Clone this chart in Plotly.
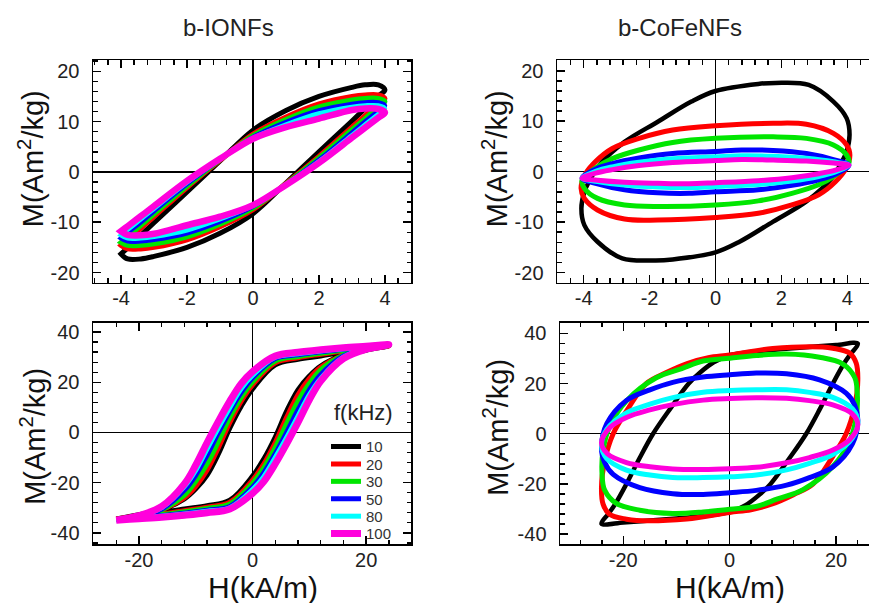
import plotly.graph_objects as go

FONT = "Arial, Liberation Sans, sans-serif"
FREQS = ["10", "20", "30", "50", "80", "100"]
COLORS = ["#000000", "#ff0000", "#00e600", "#0000ff", "#00ffff", "#ff00dc"]

# ---------------- b-IONFs, low field (top-left) ----------------
TL_H_DESC = [4, 3.8, 3.4, 3, 2, 1, 0, -1, -2, -3, -3.4, -3.8, -4]
TL_H_ASC = [-4, -3.8, -3.4, -3, -2, -1, 0, 1, 2, 3, 3.4, 3.8, 4]
TL_M_DESC_10 = [16.3, 17.3, 17.3, 16.8, 15, 12.2, 8.3, 2.2, -4.0, -10.1, -12.6, -15.1, -16.3]
TL_M_ASC_10 = [-16.3, -17.3, -17.3, -16.8, -15, -12.2, -8.3, -2.2, 4.0, 10.1, 12.6, 15.1, 16.3]
TL_M_DESC_20 = [14.6, 15.3, 15.3, 15, 13.5, 10.9, 7.5, 2.3, -3.1, -8.9, -11.2, -13.4, -14.6]
TL_M_ASC_20 = [-14.6, -15.3, -15.3, -15, -13.5, -10.9, -7.5, -2.3, 3.1, 8.9, 11.2, 13.4, 14.6]
TL_M_DESC_30 = [14, 14.6, 14.6, 14.3, 12.9, 10.4, 7.2, 2.4, -2.8, -8.4, -10.6, -12.9, -14]
TL_M_ASC_30 = [-14, -14.6, -14.6, -14.3, -12.9, -10.4, -7.2, -2.4, 2.8, 8.4, 10.6, 12.9, 14]
TL_M_DESC_50 = [13.2, 13.8, 13.8, 13.5, 12.2, 9.9, 6.9, 2.5, -2.4, -7.8, -10, -12.1, -13.2]
TL_M_ASC_50 = [-13.2, -13.8, -13.8, -13.5, -12.2, -9.9, -6.9, -2.5, 2.4, 7.8, 10, 12.1, 13.2]
TL_M_DESC_80 = [12.6, 13.2, 13.2, 12.9, 11.6, 9.4, 6.7, 2.5, -2.1, -7.3, -9.4, -11.5, -12.6]
TL_M_ASC_80 = [-12.6, -13.2, -13.2, -12.9, -11.6, -9.4, -6.7, -2.5, 2.1, 7.3, 9.4, 11.5, 12.6]
TL_M_DESC_100 = [11.8, 12.5, 12.6, 12.3, 10.6, 8.9, 6.6, 2.6, -1.8, -6.8, -8.8, -10.8, -11.8]
TL_M_ASC_100 = [-11.8, -12.5, -12.6, -12.3, -10.6, -8.9, -6.6, -2.6, 1.8, 6.8, 8.8, 10.8, 11.8]

# ---------------- b-CoFeNFs, low field (top-right) ----------------
TR_H_10 = [0, -0.73, -1.75, -2.76, -3.53, -3.78, -3.98, -4.07, -3.98, -3.58, -2.83, -1.81, -1.3,
           0, 0.73, 1.75, 2.76, 3.53, 3.78, 3.98, 4.07, 3.98, 3.58, 2.83, 1.81, 1.3, 0]
TR_M_10 = [16, 13.9, 9.9, 5.9, 1.3, -1.3, -4.0, -7.3, -10.6, -13.9, -17.2, -17.6, -17.4,
           -16, -13.9, -9.9, -5.9, -1.3, 1.3, 4.0, 7.3, 10.6, 13.9, 17.2, 17.6, 17.4, 16]
TR_H_20 = [0, -1.3, -2.32, -3.13, -3.64, -3.95, -4.08, -3.98, -3.58, -2.76, -1.75,
           0, 1.3, 2.32, 3.13, 3.64, 3.95, 4.08, 3.98, 3.58, 2.76, 1.75, 0]
TR_M_20 = [9.1, 8.25, 6.6, 4.6, 2.0, -0.5, -3.3, -5.3, -7.6, -9.4, -9.6,
           -9.1, -8.25, -6.6, -4.6, -2.0, 0.5, 3.3, 5.3, 7.6, 9.4, 9.6, 9.1]
TR_H_30 = [0, -1.3, -2.32, -3.13, -3.64, -4.05, -3.98, -3.58, -2.76, -1.75,
           0, 1.3, 2.32, 3.13, 3.64, 4.05, 3.98, 3.58, 2.76, 1.75, 0]
TR_M_30 = [6.6, 5.8, 4.3, 2.6, 0.7, -1.7, -3.3, -5.3, -6.6, -6.9,
           -6.6, -5.8, -4.3, -2.6, -0.7, 1.7, 3.3, 5.3, 6.6, 6.9, 6.6]
TR_H_50 = [0, -1.3, -2.32, -3.13, -3.64, -4.05, -3.58, -2.76, -1.75, -0.8,
           0, 1.3, 2.32, 3.13, 3.64, 4.05, 3.58, 2.76, 1.75, 0.8, 0]
TR_M_50 = [4.0, 3.6, 2.7, 1.6, 0.5, -1.3, -2.4, -3.6, -4.2, -4.3,
           -4.0, -3.6, -2.7, -1.6, -0.5, 1.3, 2.4, 3.6, 4.2, 4.3, 4.0]
TR_H_80 = [0, -1.3, -2.32, -3.13, -3.64, -4.05, -3.58, -2.76, -1.75, -0.8,
           0, 1.3, 2.32, 3.13, 3.64, 4.05, 3.58, 2.76, 1.75, 0.8, 0]
TR_M_80 = [3.0, 2.6, 1.9, 1.0, 0.1, -1.3, -2.0, -2.7, -3.1, -3.2,
           -3.0, -2.6, -1.9, -1.0, -0.1, 1.3, 2.0, 2.7, 3.1, 3.2, 3.0]
TR_H_100 = [0, -1.3, -2.32, -3.13, -3.64, -4.05, -3.58, -2.76, -1.75, -0.8,
            0, 1.3, 2.32, 3.13, 3.64, 4.05, 3.58, 2.76, 1.75, 0.8, 0]
TR_M_100 = [2.2, 1.8, 1.2, 0.4, -0.3, -1.3, -1.7, -2.1, -2.3, -2.4,
            -2.2, -1.8, -1.2, -0.4, 0.3, 1.3, 1.7, 2.1, 2.3, 2.4, 2.2]

# ---------------- b-IONFs, high field (bottom-left) ----------------
BL_H_DESC = [24, 20, 16, 12, 8, 4, 0, -2, -4, -6, -8, -10, -12, -16, -20, -24]
BL_H_ASC = [-24, -20, -16, -12, -8, -4, 0, 2, 4, 6, 8, 10, 12, 16, 20, 24]
BL_M_DESC_10 = [34.5, 33.3, 32, 30.5, 29.2, 27, 17.4, 10.5, 1.8, -8.5, -17, -22.5, -26.5, -30.8, -32.8, -34.5]
BL_M_ASC_10 = [-34.5, -33.3, -32, -30.5, -29.2, -27, -17.4, -10.5, -1.8, 8.5, 17, 22.5, 26.5, 30.8, 32.8, 34.5]
BL_M_DESC_20 = [34.5, 33.6, 32.5, 31.2, 29.8, 27.8, 19, 12.5, 4, -6, -15, -21.5, -26, -30.8, -33, -34.5]
BL_M_ASC_20 = [-34.5, -33.6, -32.5, -31.2, -29.8, -27.8, -19, -12.5, -4, 6, 15, 21.5, 26, 30.8, 33, 34.5]
BL_M_DESC_30 = [34.7, 33.8, 32.8, 31.6, 30.3, 28.5, 20.2, 14, 6, -3.5, -12.5, -19.5, -25, -30.8, -33.2, -34.7]
BL_M_ASC_30 = [-34.7, -33.8, -32.8, -31.6, -30.3, -28.5, -20.2, -14, -6, 3.5, 12.5, 19.5, 25, 30.8, 33.2, 34.7]
BL_M_DESC_50 = [34.8, 34, 33.2, 32.2, 31, 29.5, 21.8, 16, 8.5, 0, -9, -17, -23, -30.5, -33.3, -34.8]
BL_M_ASC_50 = [-34.8, -34, -33.2, -32.2, -31, -29.5, -21.8, -16, -8.5, 0, 9, 17, 23, 30.5, 33.3, 34.8]
BL_M_DESC_80 = [34.8, 34.1, 33.4, 32.5, 31.4, 30, 22.8, 17.5, 10, 2, -6.5, -15, -21.5, -30, -33.4, -34.8]
BL_M_ASC_80 = [-34.8, -34.1, -33.4, -32.5, -31.4, -30, -22.8, -17.5, -10, -2, 6.5, 15, 21.5, 30, 33.4, 34.8]
BL_M_DESC_100 = [35, 34.4, 33.8, 33, 32, 30.5, 24.3, 19.5, 12.5, 4.5, -4, -13, -20.5, -29.5, -33.2, -35]
BL_M_ASC_100 = [-35, -34.4, -33.8, -33, -32, -30.5, -24.3, -19.5, -12.5, -4.5, 4, 13, 20.5, 29.5, 33.2, 35]

# ---------------- b-CoFeNFs, high field (bottom-right) ----------------
BR_H_10 = [0, -3, -5.5, -7.7, -11, -14.4, -17, -19.4, -21.5, -22.7, -24.1, -20, -15, -10, -5,
           0, 3, 5.5, 7.7, 11, 14.4, 17, 19.4, 21.5, 22.7, 24.1, 20, 15, 10, 5, 0]
BR_M_10 = [31.3, 28.5, 24.5, 20, 10.5, 0, -10, -20, -28, -31.7, -35.9, -35.4, -34.6, -33.8, -32.8,
           -31.3, -28.5, -24.5, -20, -10.5, 0, 10, 20, 28, 31.7, 35.9, 35.4, 34.6, 33.8, 32.8, 31.3]
BR_H_20 = [0, -4, -8, -12, -15.7, -19.4, -21.9, -23.5, -24.1, -23.8, -22.6, -19.4, -17.5, -8.1,
           0, 4, 8, 12, 15.7, 19.4, 21.9, 23.5, 24.1, 23.8, 22.6, 19.4, 17.5, 8.1, 0]
BR_M_20 = [31.4, 30.3, 28, 24.3, 20, 9, 0, -10.8, -21.5, -28.1, -32.1, -34.1, -34.6, -34.0,
           -31.4, -30.3, -28, -24.3, -20, -9, 0, 10.8, 21.5, 28.1, 32.1, 34.1, 34.6, 34.0, 31.4]
BR_H_30 = [0, -5, -9, -13.8, -19.4, -22.6, -23.8, -24, -23.5, -21.3, -16.9, -10.7, -5,
           0, 5, 9, 13.8, 19.4, 22.6, 23.8, 24, 23.5, 21.3, 16.9, 10.7, 5, 0]
BR_M_30 = [30.1, 29, 26, 22.3, 13.1, 2.7, -6.6, -15.9, -22.5, -27.8, -30.5, -31.8, -31.2,
           -30.1, -29, -26, -22.3, -13.1, -2.7, 6.6, 15.9, 22.5, 27.8, 30.5, 31.8, 31.2, 30.1]
BR_H_50 = [0, -5, -10.7, -15, -19.4, -23.1, -24.1, -23.5, -21.9, -16.9, -10.7, -5,
           0, 5, 10.7, 15, 19.4, 23.1, 24.1, 23.5, 21.9, 16.9, 10.7, 5, 0]
BR_M_50 = [23.5, 22.6, 20.5, 17.5, 13.3, 4, -5.3, -11.5, -16.2, -21.5, -23.9, -24.2,
           -23.5, -22.6, -20.5, -17.5, -13.3, -4, 5.3, 11.5, 16.2, 21.5, 23.9, 24.2, 23.5]
BR_H_80 = [0, -5, -10.7, -15, -19.4, -23.1, -24.1, -23.1, -19.4, -15, -10.7, -5,
           0, 5, 10.7, 15, 19.4, 23.1, 24.1, 23.1, 19.4, 15, 10.7, 5, 0]
BR_M_80 = [17.2, 16.5, 14.4, 11.8, 8.3, 1.7, -4.8, -9.9, -14.5, -16.5, -17.5, -17.5,
           -17.2, -16.5, -14.4, -11.8, -8.3, -1.7, 4.8, 9.9, 14.5, 16.5, 17.5, 17.5, 17.2]
BR_H_100 = [0, -5, -10.7, -15, -19.4, -22.5, -24.1, -23, -19.4, -15, -10.7, -5,
            0, 5, 10.7, 15, 19.4, 22.5, 24.1, 23, 19.4, 15, 10.7, 5, 0]
BR_M_100 = [14, 13.4, 11.6, 9.5, 6.5, 2.5, -3.6, -8, -11.5, -13.2, -14.1, -14.3,
            -14, -13.4, -11.6, -9.5, -6.5, -2.5, 3.6, 8, 11.5, 13.2, 14.1, 14.3, 14]

# ---------------- ticks ----------------
LOW_X_TICKS = [-4, -2, 0, 2, 4]
LOW_X_TEXT = ["-4", "-2", "0", "2", "4"]
LOW_Y_TICKS = [-20, -10, 0, 10, 20]
LOW_Y_TEXT = ["-20", "-10", "0", "10", "20"]
HIGH_X_TICKS = [-20, 0, 20]
HIGH_X_TEXT = ["-20", "0", "20"]
HIGH_Y_TICKS = [-40, -20, 0, 20, 40]
HIGH_Y_TEXT = ["-40", "-20", "0", "20", "40"]

TITLES = ["b-IONFs", "b-CoFeNFs"]
Y_TITLE = "M(Am<sup>2</sup>/kg)"
X_TITLE = "H(kA/m)"
LEGEND_TITLE = "f(kHz)"

W, H = 869, 603
fig = go.Figure()

TL_DESC = [TL_M_DESC_10, TL_M_DESC_20, TL_M_DESC_30, TL_M_DESC_50, TL_M_DESC_80, TL_M_DESC_100]
TL_ASC = [TL_M_ASC_10, TL_M_ASC_20, TL_M_ASC_30, TL_M_ASC_50, TL_M_ASC_80, TL_M_ASC_100]
BL_DESC = [BL_M_DESC_10, BL_M_DESC_20, BL_M_DESC_30, BL_M_DESC_50, BL_M_DESC_80, BL_M_DESC_100]
BL_ASC = [BL_M_ASC_10, BL_M_ASC_20, BL_M_ASC_30, BL_M_ASC_50, BL_M_ASC_80, BL_M_ASC_100]
TR_H = [TR_H_10, TR_H_20, TR_H_30, TR_H_50, TR_H_80, TR_H_100]
TR_M = [TR_M_10, TR_M_20, TR_M_30, TR_M_50, TR_M_80, TR_M_100]
BR_H = [BR_H_10, BR_H_20, BR_H_30, BR_H_50, BR_H_80, BR_H_100]
BR_M = [BR_M_10, BR_M_20, BR_M_30, BR_M_50, BR_M_80, BR_M_100]

TL_W = [5, 5, 5, 4.5, 4.5, 6.5]
TR_W = [4.5, 5, 5, 5, 4.5, 5]
BL_W = [5, 5, 5, 5, 5, 7]
BR_W = [4.5, 5, 5, 5, 5, 5]

LEGEND_IDS = ["legend", "legend2", "legend3", "legend4", "legend5", "legend6"]
LEGEND_ROW_Y = [447, 464.5, 482, 499.5, 517, 534.5]


def add_loop(x, y, xa, ya, color, width, name, legend_id):
    fig.add_trace(go.Scatter(
        x=x, y=y, mode="lines", name=name, legendgroup=name,
        showlegend=legend_id is not None, legend=legend_id or "legend",
        line=dict(color=color, width=width, shape="spline", smoothing=1.0),
        xaxis=xa, yaxis=ya, hoverinfo="skip"))


for i, f in enumerate(FREQS):
    add_loop(TL_H_DESC + TL_H_ASC, TL_DESC[i] + TL_ASC[i], "x", "y", COLORS[i], TL_W[i], f, None)
    add_loop(TR_H[i], TR_M[i], "x2", "y2", COLORS[i], TR_W[i], f, None)
    add_loop(BL_H_DESC + BL_H_ASC, BL_DESC[i] + BL_ASC[i], "x3", "y3", COLORS[i], BL_W[i], f,
             LEGEND_IDS[i])
    add_loop(BR_H[i], BR_M[i], "x4", "y4", COLORS[i], BR_W[i], f, None)


def axis(domain, rng, vals, text, minor, anchor, mirror, standoff):
    return dict(
        domain=domain, range=rng, anchor=anchor, autorange=False,
        tickmode="array", tickvals=vals, ticktext=text,
        ticks="inside", ticklen=8, tickwidth=1.5, tickcolor="black",
        showline=True, linecolor="black", linewidth=1.5, mirror=mirror,
        showgrid=False, zeroline=True, zerolinecolor="black", zerolinewidth=1.5,
        tickfont=dict(family=FONT, size=20, color="#222"),
        ticklabelstandoff=standoff,
        minor=dict(dtick=minor, tick0=0, ticks="inside", ticklen=4.5,
                   tickwidth=1.5, tickcolor="black", showgrid=False),
        fixedrange=True)


def px_x(p):
    return p / W


def px_y(p):
    return 1 - p / H


top_y = [px_y(282), px_y(58.5)]
bot_y = [px_y(545), px_y(322.5)]

fig.update_layout(
    width=W, height=H,
    margin=dict(l=0, r=0, t=0, b=0, pad=0),
    paper_bgcolor="white", plot_bgcolor="white",
    font=dict(family=FONT, color="#222"),
    xaxis=axis([px_x(93), px_x(411)], [-4.85, 4.79], LOW_X_TICKS, LOW_X_TEXT, 0.4, "y", "ticks", -3),
    yaxis=axis(top_y, [-22.0, 22.2], LOW_Y_TICKS, LOW_Y_TEXT, 2, "x", "ticks", 8),
    xaxis2=axis([px_x(557), 1.0], [-4.81, 4.66], LOW_X_TICKS, LOW_X_TEXT, 0.4, "y2", "ticks", -3),
    yaxis2=axis(top_y, [-22.0, 22.1], LOW_Y_TICKS, LOW_Y_TEXT, 2, "x2", False, 8),
    xaxis3=axis([px_x(93), px_x(411)], [-28.1, 27.9], HIGH_X_TICKS, HIGH_X_TEXT, 4, "y3", "ticks", -3),
    yaxis3=axis(bot_y, [-44.6, 43.7], HIGH_Y_TICKS, HIGH_Y_TEXT, 4, "x3", "ticks", 8),
    xaxis4=axis([px_x(560), 1.0], [-31.9, 26.2], HIGH_X_TICKS, HIGH_X_TEXT, 4, "y4", "ticks", -3),
    yaxis4=axis(bot_y, [-44.1, 44.2], HIGH_Y_TICKS, HIGH_Y_TEXT, 4, "x4", False, 8),
    showlegend=True,
)

for lid, ry in zip(LEGEND_IDS, LEGEND_ROW_Y):
    fig.update_layout({lid: dict(
        x=px_x(326), y=px_y(ry), xanchor="left", yanchor="middle",
        bgcolor="rgba(0,0,0,0)", borderwidth=0, tracegroupgap=0,
        font=dict(family=FONT, size=15, color="#333"), itemwidth=30)})

ann = []
ann.append(dict(text=TITLES[0], x=px_x(228), y=px_y(26), xref="paper", yref="paper",
                showarrow=False, font=dict(family=FONT, size=24, color="#222"),
                xanchor="center", yanchor="middle"))
ann.append(dict(text=TITLES[1], x=px_x(680), y=px_y(26), xref="paper", yref="paper",
                showarrow=False, font=dict(family=FONT, size=24, color="#222"),
                xanchor="center", yanchor="middle"))
for (cx, cy) in [(31, 158), (495, 158), (33, 437), (496, 428)]:
    ann.append(dict(text=Y_TITLE, x=px_x(cx), y=px_y(cy), xref="paper", yref="paper",
                    showarrow=False, textangle=-90,
                    font=dict(family=FONT, size=29, color="#111"),
                    xanchor="center", yanchor="middle"))
for cx in [263, 730]:
    ann.append(dict(text=X_TITLE, x=px_x(cx), y=px_y(588), xref="paper", yref="paper",
                    showarrow=False, font=dict(family=FONT, size=30, color="#111"),
                    xanchor="center", yanchor="middle"))
ann.append(dict(text=LEGEND_TITLE, x=px_x(363), y=px_y(413), xref="paper", yref="paper",
                showarrow=False, font=dict(family=FONT, size=22, color="#222"),
                xanchor="center", yanchor="middle"))
fig.update_layout(annotations=ann)

fig.write_html(
    "out.html",
    config={"displayModeBar": False, "staticPlot": True},
    post_script="document.body.style.margin='0px';document.body.style.overflow='hidden';",
)
